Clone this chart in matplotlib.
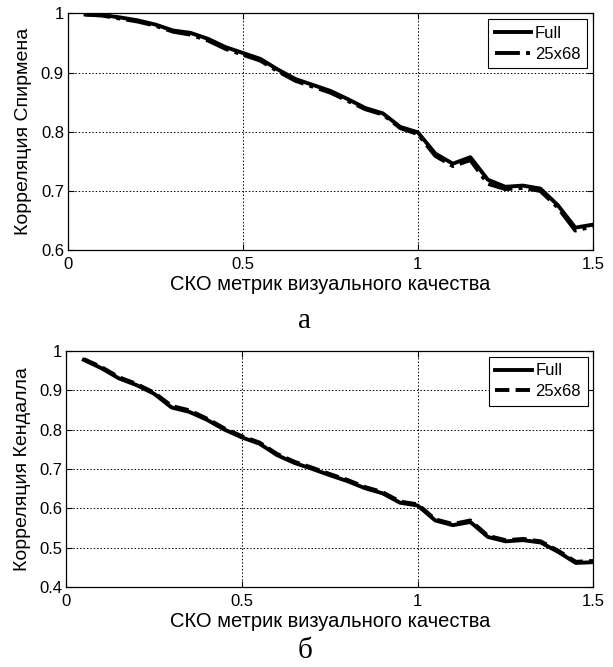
import matplotlib
matplotlib.use("Agg")
import matplotlib.pyplot as plt
from matplotlib.ticker import FuncFormatter

plt.rcParams["font.family"] = ["Liberation Sans", "DejaVu Sans"]

# Shared x axis: СКО of quality metrics
sko = [0.05, 0.10, 0.15, 0.20, 0.25, 0.30, 0.35, 0.40, 0.45, 0.50,
       0.55, 0.60, 0.65, 0.70, 0.75, 0.80, 0.85, 0.90, 0.95, 1.00,
       1.05, 1.10, 1.15, 1.20, 1.25, 1.30, 1.35, 1.40, 1.45, 1.50]

# Spearman correlation (panel а)
spearman_full = [0.998, 0.997, 0.993, 0.988, 0.981, 0.971, 0.967, 0.957, 0.943, 0.933,
                 0.923, 0.905, 0.889, 0.879, 0.869, 0.855, 0.840, 0.831, 0.808, 0.799,
                 0.763, 0.746, 0.757, 0.719, 0.707, 0.709, 0.704, 0.676, 0.638, 0.643]
spearman_25x68 = [0.998, 0.996, 0.991, 0.986, 0.979, 0.969, 0.964, 0.954, 0.940, 0.930,
                  0.920, 0.902, 0.886, 0.876, 0.866, 0.852, 0.838, 0.829, 0.806, 0.796,
                  0.759, 0.742, 0.752, 0.712, 0.703, 0.705, 0.700, 0.672, 0.633, 0.640]

# Kendall correlation (panel б)
kendall_full = [0.977, 0.956, 0.930, 0.913, 0.891, 0.856, 0.845, 0.825, 0.800, 0.780,
                0.764, 0.735, 0.715, 0.700, 0.684, 0.669, 0.651, 0.638, 0.614, 0.607,
                0.569, 0.557, 0.565, 0.527, 0.516, 0.519, 0.513, 0.489, 0.461, 0.463]
kendall_25x68 = [0.979, 0.959, 0.933, 0.916, 0.894, 0.860, 0.849, 0.828, 0.803, 0.783,
                 0.767, 0.738, 0.718, 0.703, 0.687, 0.672, 0.654, 0.641, 0.617, 0.610,
                 0.572, 0.560, 0.569, 0.530, 0.519, 0.522, 0.516, 0.492, 0.464, 0.466]

x_ticks = [0, 0.5, 1, 1.5]
spearman_ticks = [0.6, 0.7, 0.8, 0.9, 1.0]
kendall_ticks = [0.4, 0.5, 0.6, 0.7, 0.8, 0.9, 1.0]

xlabel = "СКО метрик визуального качества"
tick_fs = 12
label_fs = 14.5


def _style_axes(ax, yticks, ylabel):
    ax.set_xlim(0, 1.5)
    ax.set_ylim(yticks[0], yticks[-1])
    ax.set_xticks(x_ticks)
    ax.set_yticks(yticks)
    g = FuncFormatter(lambda v, _: f"{v:g}")
    ax.xaxis.set_major_formatter(g)
    ax.yaxis.set_major_formatter(g)
    ax.tick_params(direction="in", top=True, right=True, labelsize=tick_fs, length=4)
    ax.tick_params(axis="x", pad=5)
    ax.tick_params(axis="y", pad=3)
    ax.grid(True, linestyle=(0, (1.5, 2)), color="black", linewidth=0.7)
    for s in ax.spines.values():
        s.set_linewidth(0.9)
    ax.set_xlabel(xlabel, fontsize=label_fs, labelpad=2)
    ax.set_ylabel(ylabel, fontsize=14, labelpad=6)


def _legend(ax):
    leg = ax.legend(loc="upper right", fontsize=tick_fs, fancybox=False, edgecolor="black",
                    framealpha=1, handlelength=2.2, handletextpad=0.2, borderpad=0.4,
                    labelspacing=0.35, borderaxespad=0.35)
    leg.get_frame().set_linewidth(0.8)


fig = plt.figure(figsize=(6.13, 6.67), dpi=100)

ax1 = fig.add_axes([0.111, 0.625, 0.856, 0.355])
ax1.plot(sko, spearman_full, color="black", linewidth=2.8, label="Full")
ax1.plot(sko, spearman_25x68, color="black", linewidth=2.8, linestyle="-.", label="25x68")
_style_axes(ax1, spearman_ticks, "Корреляция Спирмена")
_legend(ax1)

ax2 = fig.add_axes([0.108, 0.12, 0.860, 0.354])
ax2.plot(sko, kendall_full, color="black", linewidth=2.8, label="Full")
ax2.plot(sko, kendall_25x68, color="black", linewidth=2.8, linestyle="--", label="25x68")
_style_axes(ax2, kendall_ticks, "Корреляция Кендалла")
_legend(ax2)

fig.text(0.497, 1 - 321 / 667, "а", ha="center", va="center", fontsize=21,
         family=["Liberation Serif", "DejaVu Serif"])
fig.text(0.497, 1 - 651 / 667, "б", ha="center", va="center", fontsize=21,
         family=["Liberation Serif", "DejaVu Serif"])

fig.savefig("out.png", dpi=100)
